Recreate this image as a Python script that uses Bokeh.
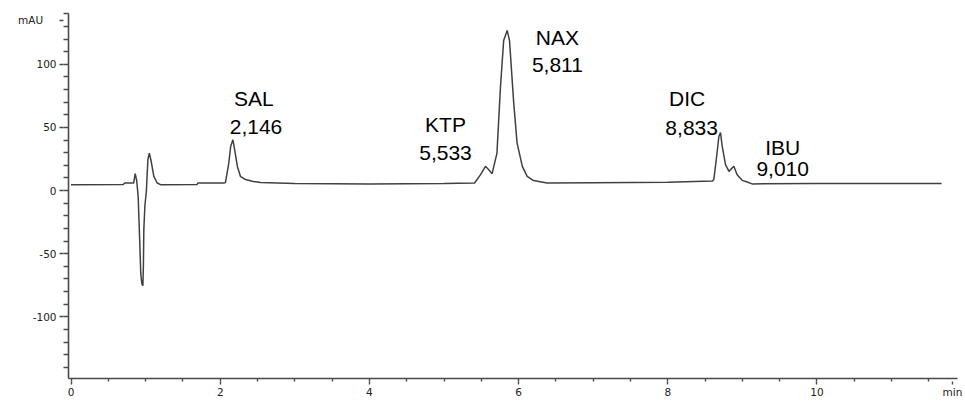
from bokeh.plotting import figure
from bokeh.models import (Range1d, FixedTicker, ColumnDataSource, LinearAxis,
                          PrintfTickFormatter)
from bokeh.core.properties import value
from bokeh.embed import file_html
from bokeh.resources import INLINE

# Chromatogram trace (time in min, signal in mAU)
time_min = [0.00, 0.70, 0.72, 0.84, 0.86, 0.88, 0.90, 0.92, 0.935, 0.95, 0.963, 0.97,
            0.976, 0.99, 1.01, 1.03, 1.05, 1.075, 1.11, 1.155, 1.20, 1.69, 1.70, 2.05,
            2.07, 2.115, 2.14, 2.17, 2.19, 2.23, 2.27, 2.34, 2.43, 2.54, 3.00, 4.00,
            5.00, 5.41, 5.49, 5.556, 5.60, 5.645, 5.71, 5.757, 5.80, 5.847, 5.878,
            5.935, 5.98, 6.05, 6.115, 6.20, 6.38, 7.00, 8.00, 8.60, 8.617, 8.65,
            8.685, 8.707, 8.73, 8.774, 8.82, 8.885, 8.93, 8.997, 9.065, 9.13, 10.00,
            11.00, 11.67]
signal_mau = [4.7, 4.8, 6.0, 6.0, 13.4, 8.0, -4.7, -38.6, -66.0, -74.0, -75.3, -60.0,
              -30.7, -12.0, -0.5, 24.4, 29.7, 23.0, 11.3, 6.0, 4.7, 4.8, 6.0, 6.0,
              6.3, 21.8, 34.9, 40.2, 33.6, 19.1, 11.3, 8.7, 7.3, 6.3, 5.5, 5.3,
              5.5, 6.0, 12.6, 19.2, 16.5, 13.4, 29.7, 82.1, 118.9, 126.8, 118.9,
              69.0, 37.6, 19.2, 11.3, 7.9, 6.0, 6.2, 6.5, 7.5, 8.7, 24.4,
              42.8, 45.9, 34.9, 20.5, 15.2, 19.2, 12.6, 8.1, 6.8, 5.3, 5.5,
              5.6, 5.6]

peak_names = ["SAL", "KTP", "NAX", "DIC", "IBU"]
peak_times_text = ["2,146", "5,533", "5,811", "8,833", "9,010"]

# axis ticks and unit labels
x_label_ticks = [0, 2, 4, 6, 8, 10]
x_small_ticks = [0, 0.5, 1, 1.5, 2, 2.5, 3, 3.5, 4, 4.5, 5, 5.5, 6, 6.5, 7, 7.5,
                 8, 8.5, 9, 9.5, 10, 10.5, 11, 11.5]
y_label_ticks = [-100, -50, 0, 50, 100]
y_small_ticks = [-140, -130, -120, -110, -100, -90, -80, -70, -60, -50, -40, -30,
                 -20, -10, 0, 10, 20, 30, 40, 50, 60, 70, 80, 90, 100, 110, 120,
                 130, 140]
x_unit_text = "min"
y_unit_text = "mAU\u00a0\u00a0\u00a0\u00a0"

# annotation anchors (data coordinates)
name_x = [2.45, 5.02, 6.52, 8.26, 9.54]
name_y = [73.2, 52.0, 121.3, 73.2, 33.9]
rt_x = [2.48, 5.02, 6.52, 8.32, 9.54]
rt_y = [50.4, 29.9, 99.2, 49.6, 17.3]
x_unit_pos = 11.816
y_unit_pos = 135

p = figure(width=965, height=400, output_backend="svg", toolbar_location=None,
           x_range=Range1d(-0.034, 11.884), y_range=Range1d(-148.8, 140.2),
           min_border_left=68, min_border_right=8, min_border_top=13,
           min_border_bottom=20, background_fill_color="white",
           border_fill_color="white")
p.outline_line_color = None
p.grid.visible = False

p.line(time_min, signal_mau, line_color="#404040", line_width=1.5)

axis_color = "#4a4a4a"
label_color = "#222222"


def style_ticks_only(ax, out):
    ax.axis_line_color = axis_color
    ax.axis_line_width = 1.6
    ax.major_tick_line_color = axis_color
    ax.minor_tick_line_color = axis_color
    ax.major_tick_line_width = 1.4
    ax.minor_tick_line_width = 1.4
    ax.major_tick_in = 0
    ax.minor_tick_in = 0
    ax.major_tick_out = out
    ax.minor_tick_out = out
    ax.major_label_standoff = 0


def style_labels(ax, extra, standoff):
    ax.axis_line_color = None
    ax.major_tick_line_color = axis_color
    ax.major_tick_line_width = 1.4
    ax.minor_tick_line_color = None
    ax.major_tick_in = 0
    ax.major_tick_out = extra
    ax.minor_tick_in = 0
    ax.minor_tick_out = 0
    ax.major_label_standoff = standoff
    ax.major_label_text_font = "DejaVu Sans"
    ax.major_label_text_font_size = "10.5px"
    ax.major_label_text_color = label_color


# x axis: line + all short ticks, then a second axis with longer major ticks and labels
xa = p.xaxis[0]
xa.ticker = FixedTicker(ticks=[], minor_ticks=x_small_ticks)
style_ticks_only(xa, 3)

xlab = LinearAxis(ticker=FixedTicker(ticks=x_label_ticks + [x_unit_pos], minor_ticks=[]),
                  major_label_overrides={x_unit_pos: x_unit_text})
style_labels(xlab, 3, 1)
p.add_layout(xlab, "below")

# y axis: same construction
ya = p.yaxis[0]
ya.ticker = FixedTicker(ticks=[], minor_ticks=y_small_ticks)
style_ticks_only(ya, 5)

ylab = LinearAxis(ticker=FixedTicker(ticks=y_label_ticks + [y_unit_pos], minor_ticks=[]),
                  formatter=PrintfTickFormatter(format="%d"),
                  major_label_overrides={y_unit_pos: y_unit_text})
style_labels(ylab, 4, 3)
p.add_layout(ylab, "left")

# peak annotations
names_src = ColumnDataSource(dict(x=name_x, y=name_y, t=peak_names))
rt_src = ColumnDataSource(dict(x=rt_x, y=rt_y, t=peak_times_text))
for src in (names_src, rt_src):
    p.text(x="x", y="y", text="t", source=src, text_font=value("Liberation Sans"),
           text_font_size="21px", text_align="center", text_baseline="alphabetic",
           text_color="black")

open("out.html", "w").write(file_html(p, INLINE))
